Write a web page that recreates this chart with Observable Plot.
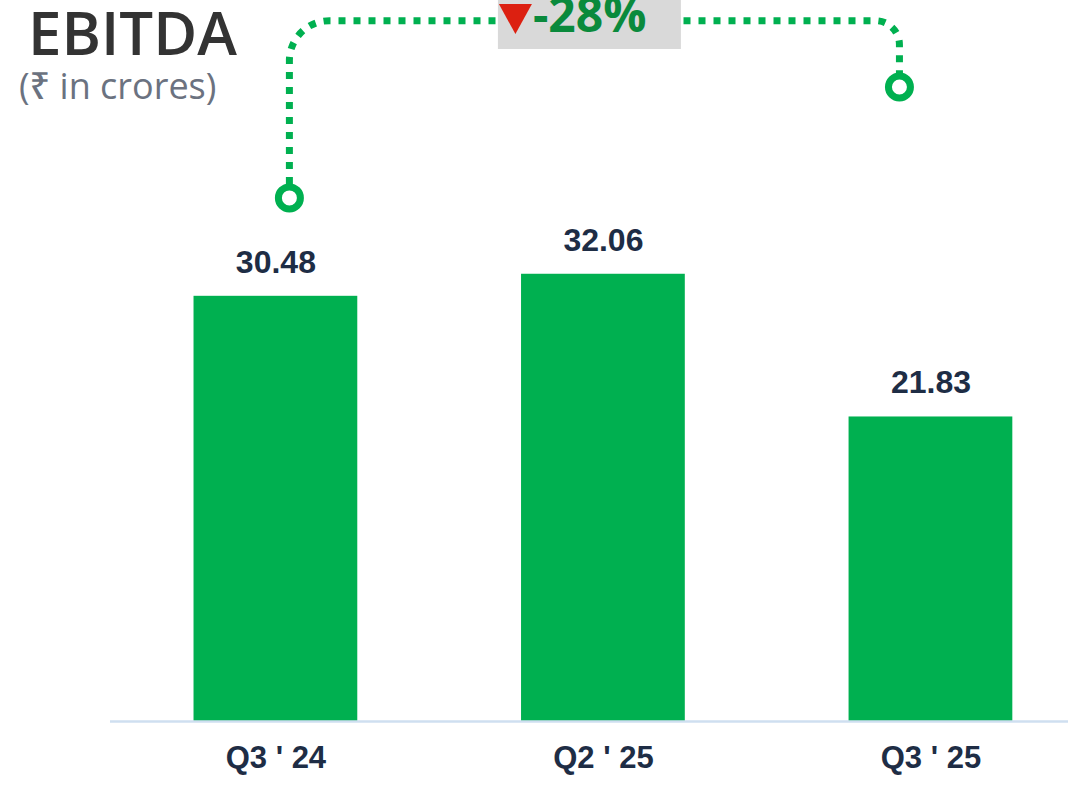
<!DOCTYPE html>
<html>
<head>
<meta charset="utf-8">
<script src="https://cdn.jsdelivr.net/npm/d3@7"></script>
<script src="https://cdn.jsdelivr.net/npm/@observablehq/plot@0.6"></script>
<style>
  body { margin: 0; background: #ffffff; }
  #chart { position: relative; width: 1068px; height: 792px; overflow: hidden; }
</style>
</head>
<body>
<div id="chart"></div>
<script>
// ---- data ----
const quarters = ["Q3 ' 24", "Q2 ' 25", "Q3 ' 25"];
const ebitda = [30.48, 32.06, 21.83];
const valueLabels = ["30.48", "32.06", "21.83"];
const changeLabel = "-28%";
const titleText = "EBITDA";
const subtitleText = "(₹ in crores)";

const rows = quarters.map((q, i) => ({ q, v: ebitda[i], label: valueLabels[i] }));

const GREEN = "#00b050";
const NAVY = "#1e2d45";

const plot = Plot.plot({
  width: 1068,
  height: 792,
  marginTop: 163,
  marginBottom: 71,
  marginLeft: 110,
  marginRight: 0,
  x: { domain: quarters, paddingInner: 0.5, paddingOuter: 0.2125, align: 0.6, round: false, axis: null },
  y: { domain: [0, 40], axis: null },
  style: { fontFamily: "'Liberation Sans', Arial, sans-serif", background: "#ffffff", overflow: "visible" },
  marks: [
    Plot.barY(rows, { x: "q", y: "v", fill: GREEN }),
    Plot.ruleY([0], { stroke: "#cfdff0", strokeWidth: 2.5 }),
    Plot.text(rows, { x: "q", y: "v", text: "label", dy: -34, fontSize: 32, fontWeight: "bold", fill: NAVY }),
    Plot.text(quarters, { x: d => d, frameAnchor: "bottom", dy: 46, fontSize: 31, fontWeight: "bold", fill: NAVY })
  ]
});

document.getElementById("chart").appendChild(plot);

// ---- annotation: bracket between first and last quarter ----
const sx = plot.scale("x");
const sy = plot.scale("y");
const bw = sx.bandwidth || 0;
const xPos = q => (sx.apply ? sx.apply(q) : 0) + bw / 2;
const yPos = v => sy.apply(v);

const bracketTop = 50.2;      // in value units
const leftEnd = 37.5;
const rightEnd = 45.45;

const lx = xPos(quarters[0]) + 14;
const rx = xPos(quarters[quarters.length - 1]) - 31;
const ty = yPos(bracketTop);
const ly = yPos(leftEnd);
const ry = yPos(rightEnd);
const R1 = 40, R2 = 24, cr = 11;

const svg = d3.select(plot);
const g = svg.append("g").attr("text-anchor", "start");

const path = `M${lx},${ly - cr - 3} L${lx},${ty + R1} A${R1},${R1} 0 0 1 ${lx + R1},${ty} L${rx - R2},${ty} A${R2},${R2} 0 0 1 ${rx},${ty + R2} L${rx},${ry - cr - 3}`;
g.append("path").attr("d", path).attr("fill", "none").attr("stroke", GREEN)
  .attr("stroke-width", 7).attr("stroke-dasharray", "7 8");
[[lx, ly], [rx, ry]].forEach(([x, y]) => {
  g.append("circle").attr("cx", x).attr("cy", y).attr("r", cr)
    .attr("fill", "#ffffff").attr("stroke", GREEN).attr("stroke-width", 7);
});

// change label box
const mid = (lx + rx) / 2 - 5;
const bx = mid - 91.5;
g.append("rect").attr("x", bx).attr("y", -10).attr("width", 183).attr("height", 59).attr("fill", "#d9d9d9");
g.append("path").attr("d", `M${bx + 1},4 L${bx + 34},4 L${bx + 17.5},34 Z`).attr("fill", "#dc2011");
g.append("text").attr("x", bx + 35).attr("y", 32).text(changeLabel)
  .attr("text-anchor", "start")
  .attr("font-family", "'Open Sans', 'Noto Sans', sans-serif").attr("font-weight", 700)
  .attr("font-size", 48).attr("fill", "#0a8a3c");

// title + subtitle
const tg = svg.append("g").attr("text-anchor", "start");
tg.append("text").attr("x", 28).attr("y", 55).text(titleText)
  .attr("text-anchor", "start")
  .attr("font-family", "'Open Sans', 'Noto Sans', sans-serif").attr("font-weight", 600)
  .attr("font-size", 60).attr("fill", "#333333");
tg.append("text").attr("x", 19).attr("y", 99).text(subtitleText)
  .attr("text-anchor", "start")
  .attr("font-family", "'Open Sans', 'Noto Sans', sans-serif").attr("font-weight", 500)
  .attr("font-size", 36).attr("fill", "#6b7280");
</script>
</body>
</html>
